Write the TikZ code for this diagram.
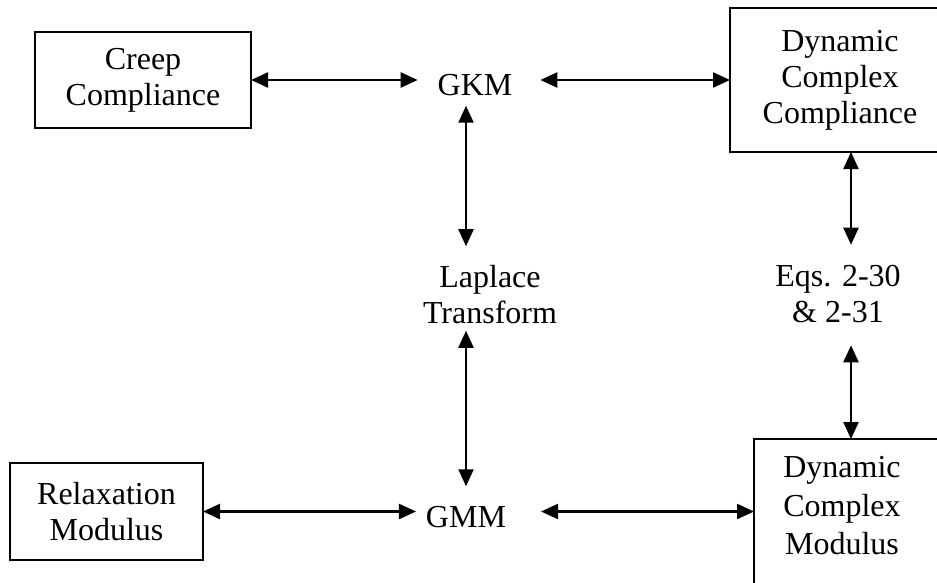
\documentclass[tikz,border=0pt]{standalone}
\usepackage{fontspec}
\setmainfont{Liberation Serif}
\usetikzlibrary{arrows.meta, positioning}
\tikzset{box/.style = {
  % Rectangle:
  rectangle,
  draw=black, line width=2.4pt,
  inner sep=0pt, outer sep=0pt,
  % Text
  align=center,
  font=\fontsize{32}{36}\selectfont
  }}
\tikzset{lbl/.style = {
  inner sep=0pt, outer sep=0pt,
  align=center,
  font=\fontsize{32}{36}\selectfont
  }}
\tikzset{arrow/.style = {
  {Triangle[length=17pt,width=15pt]}-{Triangle[length=17pt,width=15pt]},
  line width=2.2pt,
  draw=black
  }}

\begin{document}
\begin{tikzpicture}[x=1pt, y=-1pt]
\useasboundingbox (0,0) rectangle (937,583);
\clip (0,0) rectangle (937,583);

% NODES
\node (creep) [box, minimum width=216pt, minimum height=96pt] at (143,80) {Creep\\Compliance};
\node (dcc) [box, minimum width=220pt, minimum height=144pt] at (840,80) {Dynamic\\Complex\\Compliance};
\node (relax) [box, minimum width=193pt, minimum height=97pt] at (106.5,511.5) {Relaxation\\Modulus};
\node (dcm) [box, minimum width=194pt, minimum height=180pt, anchor=north west] at (754,439) {};
\node (dcmtext) [lbl, font=\fontsize{32}{38.5}\selectfont] at (842,506) {Dynamic\\Complex\\Modulus};

\node (gkm) [lbl] at (475,85) {GKM};
\node (laplace) [lbl] at (490,294.5) {Laplace\\Transform};
\node (gmm) [lbl] at (466,517) {GMM};
\node (eqs) [lbl] at (838,294.5) {Eqs. 2-30\\\& 2-31};

% arrows
\draw [arrow, shorten >=20pt] (creep.east) -- (creep.east -| gkm.west);
\draw [arrow, shorten <=28pt] (gkm.east |- dcc.west) -- (dcc.west);

\draw [arrow, shorten <=10pt, shorten >=19pt] (gkm.south -| gmm) -- (laplace.north -| gmm);
\draw [arrow, shorten <=7pt, shorten >=20pt] (laplace.south -| gmm) -- (gmm.north);

\draw [arrow, shorten >=10pt] (relax.east) -- (relax.east -| gmm.west);
\draw [arrow, shorten <=35pt] (relax.east -| gmm.east) -- (relax.east -| dcm.west);

\draw [arrow, shorten >=21pt] (dcc.south -| dcm) -- (eqs.north -| dcm);
\draw [arrow, shorten <=22pt] (eqs.south -| dcm) -- (dcm.north);
\end{tikzpicture}
\end{document}
